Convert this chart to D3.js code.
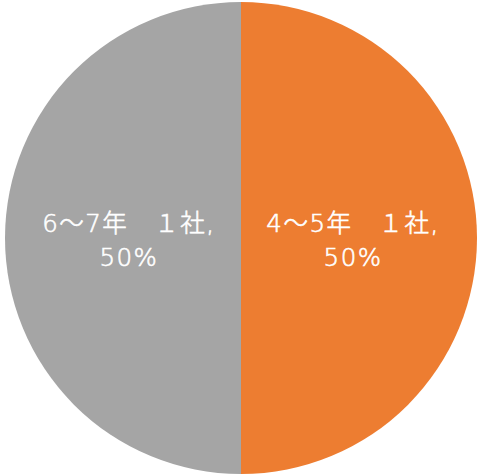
<!DOCTYPE html>
<html>
<head>
<meta charset="utf-8">
<script src="https://cdn.jsdelivr.net/npm/d3@7"></script>
<style>
  body { margin: 0; background: #fff; }
</style>
</head>
<body>
<svg id="chart" width="481" height="476"></svg>
<script>
const categories = ["4～5年　１社", "6～7年　１社"];
const values = [1, 1];
const percentLabels = ["50%", "50%"];
const colors = ["#ED7D31", "#A5A5A5"];

const svg = d3.select("#chart"),
   cx = 241,
   cy = 238,
   radius = 236;

const data = categories.map((c, i) => ({name: c, value: values[i], pct: percentLabels[i], color: colors[i]}));

const pie = d3.pie().sort(null).value(d => d.value);
const arc = d3.arc().innerRadius(0).outerRadius(radius);
const labelArc = d3.arc().innerRadius(radius * 0.475).outerRadius(radius * 0.475);

const g = svg.append("g").attr("transform", `translate(${cx},${cy})`);

// slices
g.selectAll("path")
   .data(pie(data))
   .join("path")
   .attr("d", arc)
   .attr("fill", d => d.data.color);

// labels
const labels = g.selectAll("text")
   .data(pie(data))
   .join("text")
   .attr("transform", d => `translate(${labelArc.centroid(d)})`)
   .attr("text-anchor", "middle")
   .attr("fill", "#fff")
   .attr("stroke", "#fff")
   .attr("stroke-width", 0.6)
   .attr("font-family", "'DejaVu Sans', 'Noto Sans CJK JP', sans-serif")
   .attr("font-weight", 200)
   .attr("font-size", "24.5px")
   .attr("letter-spacing", "1.5px");

labels.append("tspan")
   .attr("x", 0)
   .attr("y", -6)
   .text(d => d.data.name + ",");
labels.append("tspan")
   .attr("x", 0)
   .attr("y", 28)
   .text(d => d.data.pct);
</script>
</body>
</html>
